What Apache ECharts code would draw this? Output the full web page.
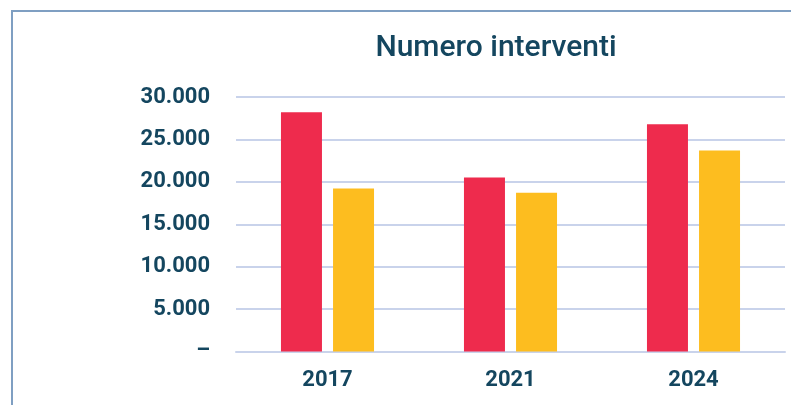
<!DOCTYPE html>
<html>
<head>
<meta charset="utf-8">
<script src="https://cdn.jsdelivr.net/npm/echarts@6/dist/echarts.min.js"></script>
<style>
  html, body { margin: 0; padding: 0; background: #ffffff; }
  .frame {
    position: absolute;
    left: 11px;
    top: 10px;
    width: 800px;
    height: 420px;
    border-left: 2px solid #7f9fc2;
    border-top: 2px solid #7f9fc2;
  }
  #chart { position: absolute; left: 0; top: 0; width: 791px; height: 405px; }
</style>
</head>
<body>
<div class="frame"></div>
<div id="chart"></div>
<script>
// dati
const years = ['2017', '2021', '2024']
const serieRossa = [28200, 20500, 26800]
const serieGialla = [19200, 18700, 23700]
const yTicks = [0, 5000, 10000, 15000, 20000, 25000, 30000]

const textColor = '#14465f'

const myChart = echarts.init(document.getElementById('chart'))

const option = {
  animation: false,
  title: {
    text: 'Numero interventi',
    left: 491,
    textAlign: 'center',
    top: 28,
    textStyle: {
      fontFamily: 'Roboto, sans-serif',
      fontSize: 30,
      fontWeight: 500,
      color: textColor,
    },
  },
  grid: {
    left: 236,
    right: 6,
    top: 97,
    bottom: 53.5,
  },
  xAxis: {
    type: 'category',
    data: years,
    axisTick: { show: false },
    axisLine: {
      lineStyle: { color: '#c9d3eb', width: 2 },
    },
    axisLabel: {
      margin: 18,
      fontFamily: 'Roboto, sans-serif',
      fontSize: 22,
      fontWeight: 'bold',
      color: textColor,
    },
  },
  yAxis: {
    type: 'value',
    min: yTicks[0],
    max: yTicks[yTicks.length - 1],
    interval: 5000,
    axisLine: { show: false },
    axisTick: { show: false },
    splitLine: {
      lineStyle: { color: '#c9d3eb', width: 2 },
    },
    axisLabel: {
      margin: 26,
      fontFamily: 'Roboto, sans-serif',
      fontSize: 22,
      fontWeight: 'bold',
      color: textColor,
      formatter: (v) => (v === 0 ? '–' : v.toLocaleString('it-IT').replace(/\s/g, '.')),
    },
  },
  series: [
    {
      name: 'A',
      type: 'bar',
      data: serieRossa,
      barWidth: 41,
      barGap: '27%',
      itemStyle: { color: '#ee2b4d' },
    },
    {
      name: 'B',
      type: 'bar',
      data: serieGialla,
      barWidth: 41,
      itemStyle: { color: '#fdbd1f' },
    },
  ],
}

myChart.setOption(option)
</script>
</body>
</html>
